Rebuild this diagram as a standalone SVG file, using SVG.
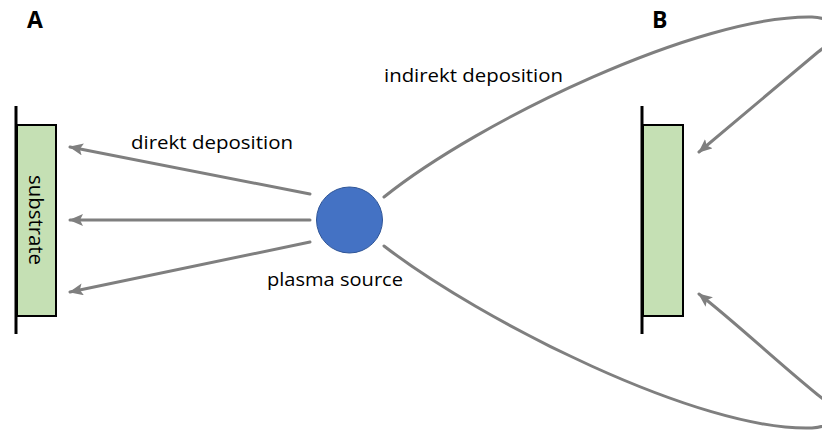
<svg xmlns="http://www.w3.org/2000/svg" width="822" height="430" viewBox="0 0 822 430">
  <style>
    .lbl { font-family: "Open Sans", "Liberation Sans", sans-serif; font-size: 19px; fill: #000; }
    .panel { font-family: "Open Sans", "Liberation Sans", sans-serif; font-size: 23px; font-weight: bold; fill: #000; }
    .conn { fill: none; stroke: #7f7f7f; stroke-width: 3; stroke-linecap: round; }
    .sub { fill: #c5e0b4; stroke: #000; stroke-width: 2; }
    .holder { stroke: #000; stroke-width: 3; }
  </style>
  <defs>
    <marker id="arr" markerUnits="userSpaceOnUse" markerWidth="16" markerHeight="14" refX="13" refY="6" orient="auto">
      <path d="M0,0 L14,6 L0,12 L3,6 Z" fill="#7f7f7f"/>
    </marker>
  </defs>
  <rect width="822" height="430" fill="#fff"/>

  <text class="panel" x="27" y="28">A</text>
  <text class="panel" x="652" y="28">B</text>

  <g id="substrate-a">
    <rect class="sub" x="17" y="125" width="39" height="191"/>
    <line class="holder" x1="16" y1="106" x2="16" y2="334"/>
    <text class="lbl" transform="translate(29,220) rotate(90)" text-anchor="middle" textLength="90" lengthAdjust="spacingAndGlyphs" style="font-size:20px">substrate</text>
  </g>

  <g id="substrate-b">
    <rect class="sub" x="643" y="125" width="40" height="191"/>
    <line class="holder" x1="642" y1="106" x2="642" y2="334"/>
  </g>

  <g id="plasma-source">
    <circle cx="349.5" cy="220" r="33" fill="#4472c4" stroke="#2f5597" stroke-width="1"/>
    <text class="lbl" x="335" y="286" text-anchor="middle" textLength="136" lengthAdjust="spacingAndGlyphs">plasma source</text>
  </g>

  <g id="connectors">
    <line class="conn" x1="310" y1="194" x2="70" y2="147" marker-end="url(#arr)"/>
    <line class="conn" x1="310" y1="220" x2="70" y2="220" marker-end="url(#arr)"/>
    <line class="conn" x1="310" y1="242" x2="70" y2="292" marker-end="url(#arr)"/>
    <path class="conn" d="M384,197 C480,120 700,15 812,17 C840,18 838,38 818,52 L699,152" marker-end="url(#arr)"/>
    <path class="conn" d="M384,246 C480,320 700,432 812,428 C840,426 836,408 818,395 C775,360 735,322 699,294" marker-end="url(#arr)"/>
  </g>

  <text class="lbl" x="131" y="149" textLength="162" lengthAdjust="spacingAndGlyphs">direkt deposition</text>
  <text class="lbl" x="384" y="82" textLength="179" lengthAdjust="spacingAndGlyphs">indirekt deposition</text>
</svg>
